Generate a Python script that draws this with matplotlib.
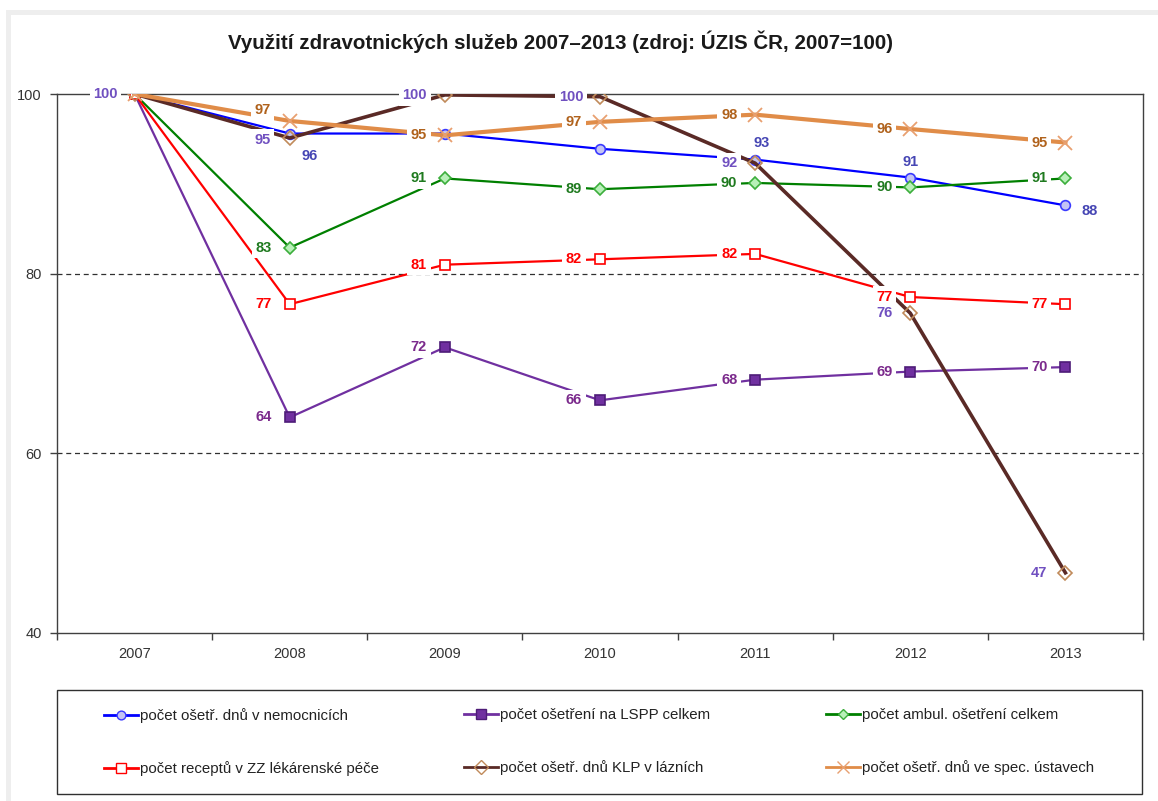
import numpy as np
import matplotlib
matplotlib.use("Agg")
import matplotlib.pyplot as plt
from matplotlib.lines import Line2D
from matplotlib.patches import Rectangle

plt.rcParams['font.family'] = ['Liberation Sans', 'DejaVu Sans']

years = ['2007', '2008', '2009', '2010', '2011', '2012', '2013']

# indexy, 2007 = 100
nemocnice = [100, 95.6, 95.6, 93.9, 92.7, 90.7, 87.6]
lspp = [100, 64.0, 71.8, 65.9, 68.2, 69.1, 69.6]
ambul = [100, 82.9, 90.6, 89.4, 90.1, 89.6, 90.6]
recepty = [100, 76.6, 81.0, 81.6, 82.2, 77.4, 76.6]
lazne = [100, 95.1, 99.9, 99.7, 92.3, 75.6, 46.7]
spec_ustavy = [100, 97.0, 95.4, 96.9, 97.7, 96.1, 94.6]

names = ['počet ošetř. dnů v nemocnicích',
         'počet ošetření na LSPP celkem',
         'počet ambul. ošetření celkem',
         'počet receptů v ZZ lékárenské péče',
         'počet ošetř. dnů KLP v lázních',
         'počet ošetř. dnů ve spec. ústavech']

# styl rad: barva cary, sirka, marker, vypln, okraj, velikost, barva popisku
styles = [
    dict(color='#0000ff', lw=1.6, marker='o', mfc='#c4c4f4', mec='#3a3aff', ms=7, lab='#4646b4'),
    dict(color='#7030a0', lw=1.6, marker='s', mfc='#7030a0', mec='#4e1c78', ms=7.5, lab='#7b2a8c'),
    dict(color='#008000', lw=1.6, marker='D', mfc='#b8f0b8', mec='#3cae3c', ms=6, lab='#1f7a1f'),
    dict(color='#ff0000', lw=1.6, marker='s', mfc='white', mec='#ff0000', ms=7.5, lab='#ff0000'),
    dict(color='#5a2a26', lw=2.6, marker='D', mfc='none', mec='#c08a5a', ms=7.5, lab='#7050c0'),
    dict(color='#e08c48', lw=3.0, marker='x', mfc='none', mec='#e8a070', ms=10, lab='#b0621c'),
]

# posun popisku v px (dx doprava, dy dolu); None = bez popisku
L = (-26, 0)
label_pos = [
    [None, (20, 22), None, None, (6, -17), (0, -16), (24, 6)],
    [None, L, L, L, L, L, L],
    [None, L, L, L, L, L, L],
    [None, L, L, L, L, L, L],
    [(-29, 0), (-27, 2), (-30, 0), (-29, 0), L, L, L],
    [None, (-27, -11), L, L, L, L, L],
]

series = [nemocnice, lspp, ambul, recepty, lazne, spec_ustavy]

fig = plt.figure(figsize=(11.58, 8.01), dpi=100)
fig.patch.set_facecolor('white')

# svetle sedy ramecek nahore a vlevo
fig.add_artist(Rectangle((7 / 1158, 1 - 15 / 801), 1 - 7 / 1158, 5 / 801,
                         transform=fig.transFigure, color='#eeeeee', lw=0))
fig.add_artist(Rectangle((6 / 1158, 0), 5 / 1158, 1 - 10 / 801,
                         transform=fig.transFigure, color='#eeeeee', lw=0))

ax = fig.add_axes([57 / 1158, 1 - 633 / 801, (1143 - 57) / 1158, (633 - 94) / 801])
x = np.arange(len(years))

handles = []
for vals, st, name, pos in zip(series, styles, names, label_pos):
    h, = ax.plot(x, vals, color=st['color'], lw=st['lw'], marker=st['marker'],
                 mfc=st['mfc'], mec=st['mec'], ms=st['ms'],
                 mew=1.2 if st['marker'] != 'x' else 1.3, label=name, zorder=3)
    handles.append(h)
    for xi, v, p in zip(x, vals, pos):
        if p is None:
            continue
        ax.annotate(f'{v:.0f}', (xi, v), xytext=(p[0] * 0.72, -p[1] * 0.72),
                    textcoords='offset points', ha='center', va='center',
                    fontsize=10.5, fontweight='bold', color=st['lab'], zorder=5,
                    bbox=dict(boxstyle='square,pad=0.25', fc='white', ec='none'))

ax.set_xlim(-0.5, 6.5)
ax.set_ylim(40, 100)
ax.set_yticks([40, 60, 80, 100])
ax.set_xticks(x)
ax.set_xticklabels(years)
ax.set_xticks(np.arange(-0.5, 7, 1), minor=True)
ax.tick_params(axis='x', which='major', length=0, pad=10, labelsize=10.5, labelcolor='#333333')
ax.tick_params(axis='x', which='minor', length=5, width=1, color='#404040', direction='out')
ax.tick_params(axis='y', length=5, width=1, color='#404040', pad=6, labelsize=10.5,
               labelcolor='#333333', direction='out')
for yv in [60, 80]:
    ax.axhline(yv, color='#303030', lw=0.9, ls=(0, (4, 3)), zorder=1)
for sp in ax.spines.values():
    sp.set_color('#404040')
    sp.set_linewidth(1.0)

fig.text(560 / 1158, 1 - 42 / 801,
         'Využití zdravotnických služeb 2007–2013 (zdroj: ÚZIS ČR, 2007=100)',
         ha='center', va='center', fontsize=14.8, fontweight='bold', color='#1a1a1a')

# ramecek legendy
fig.add_artist(Rectangle((57 / 1158, 1 - 794 / 801), (1142 - 57) / 1158, (794 - 690) / 801,
                         transform=fig.transFigure, fc='white', ec='#303030', lw=1.0))

col_x = [104, 464, 826]
for ci, cx in enumerate(col_x):
    hs = [handles[ci], handles[ci + 3]]
    hh = []
    for h in hs:
        hh.append(Line2D([], [], color=h.get_color(), lw=2.0, marker=h.get_marker(),
                         mfc=h.get_markerfacecolor(), mec=h.get_markeredgecolor(),
                         ms=h.get_markersize() * 0.9, mew=1.0))
    leg = fig.legend(hh, [names[ci], names[ci + 3]], loc='upper left',
                     bbox_to_anchor=(cx / 1158, 1 - 708.5 / 801), frameon=False,
                     fontsize=10.8, handlelength=2.27, handletextpad=0.13,
                     borderpad=0, borderaxespad=0, labelspacing=2.53)
    for t in leg.get_texts():
        t.set_color('#222222')

fig.savefig('out.png', dpi=100, facecolor='white')
